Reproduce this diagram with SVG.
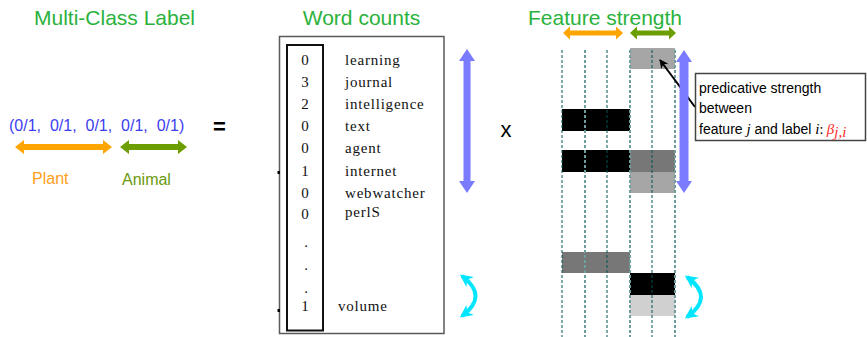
<svg xmlns="http://www.w3.org/2000/svg" width="867" height="337" viewBox="0 0 867 337">
  <style>
    .title { font-family: "Liberation Sans", Arial, sans-serif; font-size: 21px; fill: #2ab23c; text-anchor: middle; }
    .sans { font-family: "Liberation Sans", Arial, sans-serif; }
    .vec { font-size: 16px; fill: #3d3df0; white-space: pre; }
    .op { font-size: 22px; fill: #000; text-anchor: middle; }
    .lbl { font-size: 16px; }
    .orange { fill: #ffa500; }
    .olive { fill: #6c9e00; }
    .blue { fill: #7b7bff; }
    .cnt { font-family: "Liberation Serif", "Times New Roman", serif; font-size: 15px; fill: #111; letter-spacing: 0.8px; }
    .num { text-anchor: middle; letter-spacing: 0; }
    .grid-a { stroke: #005252; stroke-width: 1; stroke-dasharray: 3 2; fill: none; }
    .grid-b { stroke: #6f9d9d; stroke-width: 2; stroke-dasharray: 3 2; fill: none; }
    .cyan { stroke: #00e6ff; stroke-width: 4; fill: none; marker-start: url(#cyanHead); marker-end: url(#cyanHead); }
    .note { font-family: "Liberation Sans", Arial, sans-serif; font-size: 14px; fill: #000; }
    .it { font-family: "Liberation Serif", "Times New Roman", serif; font-style: italic; font-size: 15px; }
  </style>
  <defs>
    <marker id="cyanHead" viewBox="0 0 10 10" refX="8" refY="5" markerWidth="3.2" markerHeight="3.2" orient="auto-start-reverse" markerUnits="strokeWidth">
      <path d="M0,0 L10,5 L0,10 L3,5 z" fill="#00e6ff"/>
    </marker>
    <marker id="blackHead" viewBox="0 0 10 10" refX="9" refY="5" markerWidth="9" markerHeight="9" orient="auto" markerUnits="userSpaceOnUse">
      <path d="M0,0 L10,5 L0,10 L3,5 z" fill="#000"/>
    </marker>
  </defs>

  <rect width="867" height="337" fill="#fff"/>

  <!-- Column titles -->
  <text class="title" x="114.5" y="25">Multi-Class Label</text>
  <text class="title" x="361.5" y="25">Word counts</text>
  <text class="title" x="605" y="25">Feature strength</text>

  <!-- Label vector -->
  <g id="label-vector">
    <text class="sans vec" x="9" y="131">(0/1,  0/1,  0/1,  0/1,  0/1)</text>
    <polygon class="orange" points="15,147 24,140 24,144 103,144 103,140 112,147 103,154 103,150 24,150 24,154"/>
    <polygon class="olive" points="120,147 129,140 129,144 178,144 178,140 187,147 178,154 178,150 129,150 129,154"/>
    <text class="sans lbl" x="32" y="184" fill="#ffa020">Plant</text>
    <text class="sans lbl" x="122" y="185" fill="#6b9a10">Animal</text>
  </g>

  <text class="sans op" x="219.5" y="134" font-weight="bold" font-size="20">=</text>
  <text class="sans op" x="506" y="137">x</text>

  <!-- Word count vector -->
  <g id="word-counts">
    <rect x="279.5" y="36.5" width="164.5" height="297" fill="none" stroke="#5a5a5a" stroke-width="1.5"/>
    <rect x="287" y="45" width="36" height="285.5" fill="none" stroke="#111" stroke-width="2"/>
    <rect x="277.5" y="171" width="2.5" height="3" fill="#000"/>
    <rect x="277.5" y="309" width="2.5" height="3" fill="#000"/>
    <g class="cnt">
      <text class="num" x="305" y="65">0</text><text x="345" y="65">learning</text>
      <text class="num" x="305" y="87">3</text><text x="345" y="87">journal</text>
      <text class="num" x="305" y="109">2</text><text x="345" y="109">intelligence</text>
      <text class="num" x="305" y="131">0</text><text x="345" y="131">text</text>
      <text class="num" x="305" y="153">0</text><text x="345" y="153">agent</text>
      <text class="num" x="305" y="176">1</text><text x="345" y="176">internet</text>
      <text class="num" x="305" y="198">0</text><text x="345" y="198">webwatcher</text>
      <text class="num" x="305" y="219">0</text><text x="345" y="217">perlS</text>
      <text class="num" x="306" y="247">.</text>
      <text class="num" x="306" y="270">.</text>
      <text class="num" x="306" y="293">.</text>
      <text class="num" x="305" y="311">1</text><text x="338" y="311">volume</text>
    </g>
    <polygon class="blue" points="467,49 475,61 470.5,61 470.5,181 475,181 467,193 459,181 463.5,181 463.5,61 459,61"/>
    <path class="cyan" d="M462,276 Q489,296 462,316"/>
  </g>

  <!-- Feature strength matrix -->
  <g id="feature-matrix">
    <polygon class="orange" points="563,33 570,26.5 570,30.5 616,30.5 616,26.5 623,33 616,39.5 616,35.5 570,35.5 570,39.5"/>
    <polygon class="olive" points="630,33 637,26.5 637,30.5 669,30.5 669,26.5 676,33 669,39.5 669,35.5 637,35.5 637,39.5"/>

    <rect x="630" y="48" width="45" height="21" fill="#a6a6a6"/>
    <rect x="562" y="109" width="68" height="22" fill="#000"/>
    <rect x="562" y="150" width="68" height="22" fill="#000"/>
    <rect x="630" y="150" width="45" height="22" fill="#777"/>
    <rect x="630" y="172" width="45" height="21" fill="#a6a6a6"/>
    <rect x="562" y="252" width="68" height="21" fill="#777"/>
    <rect x="630" y="273" width="45" height="22" fill="#000"/>
    <rect x="630" y="295" width="45" height="21" fill="#d0d0d0"/>

    <line class="grid-a" x1="562" y1="50" x2="562" y2="337"/>
    <line class="grid-b" x1="585" y1="50" x2="585" y2="337"/>
    <line class="grid-a" x1="607" y1="50" x2="607" y2="337"/>
    <line class="grid-b" x1="630" y1="50" x2="630" y2="337"/>
    <line class="grid-a" x1="652" y1="50" x2="652" y2="337"/>
    <line class="grid-b" x1="675" y1="50" x2="675" y2="337"/>
  </g>

  <!-- Pointer from the note to the matrix cell -->
  <g id="connectors">
    <line x1="695" y1="107" x2="660" y2="60" stroke="#000" stroke-width="2" marker-end="url(#blackHead)"/>
  </g>

  <g id="matrix-arrows">
    <polygon class="blue" points="684,50 692,62 688.5,62 688.5,181 692,181 684,193 676,181 679.5,181 679.5,62 676,62"/>
    <path class="cyan" d="M687,277 Q715,297 687,317"/>
  </g>

  <!-- Note box -->
  <g id="note">
    <rect x="695.5" y="73.5" width="170" height="67" fill="#fff" stroke="#444" stroke-width="1.5"/>
    <text class="note" x="699" y="93">predicative strength</text>
    <text class="note" x="699" y="113">between</text>
    <text class="note" x="699" y="134">feature <tspan class="it">j</tspan> and label <tspan class="it">i</tspan><tspan font-family="Liberation Serif, serif">: </tspan><tspan class="it" fill="#ff2a2a" font-size="16">β</tspan><tspan class="it" fill="#ff2a2a" font-size="10" dy="3">j,i</tspan></text>
  </g>
</svg>
